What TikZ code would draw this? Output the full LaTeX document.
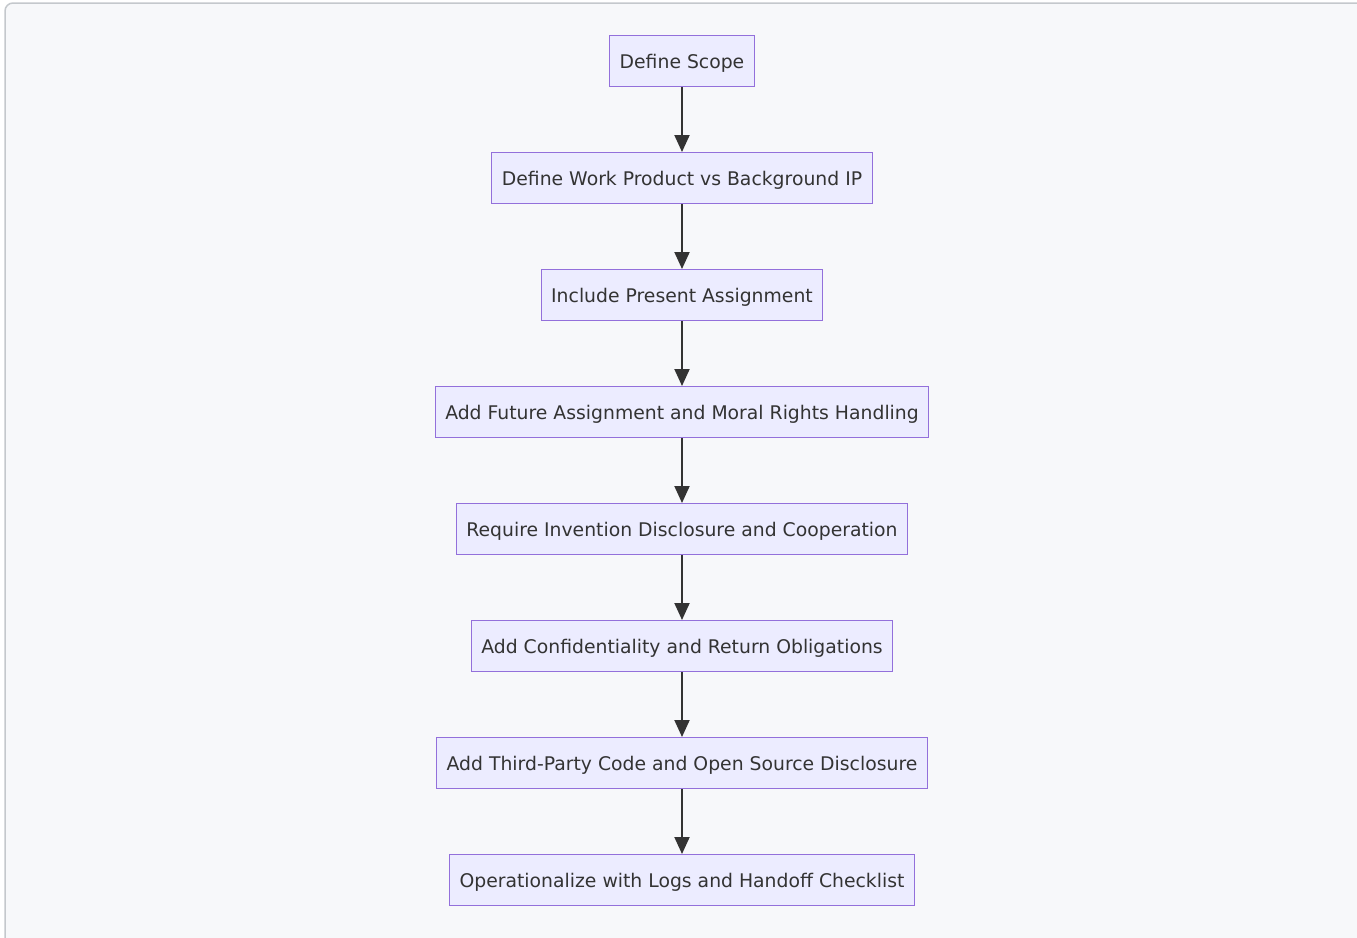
\documentclass[tikz,border=0pt]{standalone}
\usepackage{fontspec}
\setmainfont{DejaVu Sans}
\usepackage{xcolor}
\usepackage{tikz}
\usetikzlibrary{arrows.meta}
\definecolor{boxfill}{HTML}{ECECFF}
\definecolor{boxline}{HTML}{9370DB}
\definecolor{arwcol}{HTML}{333333}
\definecolor{canvas}{HTML}{F7F8FA}
\definecolor{frame}{HTML}{C4C8CC}
\tikzstyle{stepbox} = [rectangle, minimum height=51pt, inner xsep=10pt, text centered, text height=16pt, text depth=2pt, draw=boxline, line width=1pt, fill=boxfill, text=arwcol, font=\fontsize{18.8pt}{22pt}\selectfont]
\tikzset{arw/.style={-{Triangle[length=17pt,width=15pt]},line width=2pt,draw=arwcol}}

\begin{document}
\begin{tikzpicture}[x=1pt, y=-1pt, node distance=117pt]
			\useasboundingbox (0,0) rectangle (1357,937);
			\begin{scope}
			\clip (0,0) rectangle (1357,937);
			\draw [frame, fill=canvas, line width=1.5pt, rounded corners=8pt] (5,3) rectangle (1364,946);
			\end{scope}
			\node (scope) [stepbox] at (682,61) {Define Scope};
			\node (work) [stepbox, below of = scope] {Define Work Product vs Background IP};
			\node (present) [stepbox, below of = work] {Include Present Assignment};
			\node (future) [stepbox, below of = present] {Add Future Assignment and Moral Rights Handling};
			\node (disc) [stepbox, below of = future] {Require Invention Disclosure and Cooperation};
			\node (conf) [stepbox, below of = disc] {Add Confidentiality and Return Obligations};
			\node (third) [stepbox, below of = conf] {Add Third-Party Code and Open Source Disclosure};
			\node (ops) [stepbox, below of = third] {Operationalize with Logs and Handoff Checklist};
			
			
			\draw [arw] (scope) -- (work);
			\draw [arw] (work) -- (present);
			\draw [arw] (present) -- (future);
			\draw [arw] (future) -- (disc);
			\draw [arw] (disc) -- (conf);
			\draw [arw] (conf) -- (third);
			\draw [arw] (third) -- (ops);
			
			
			\end{tikzpicture}
\end{document}
